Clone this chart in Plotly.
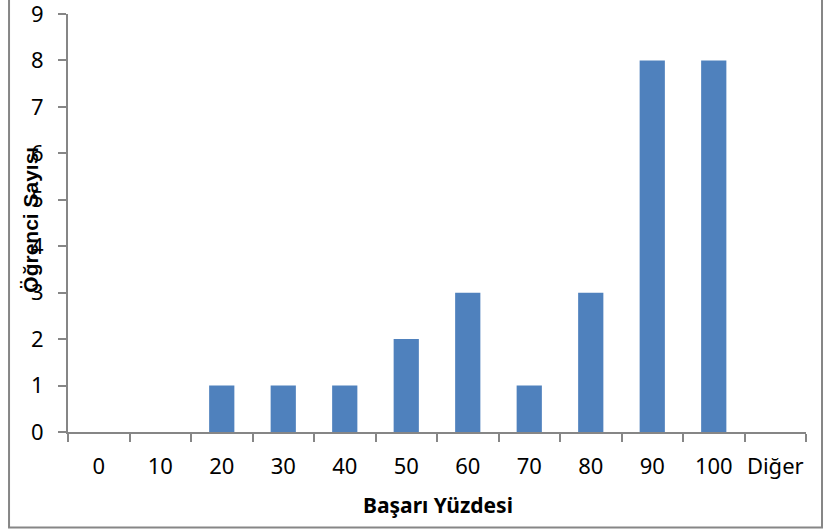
import plotly.graph_objects as go

# histogram bins and counts
categories = ["0", "10", "20", "30", "40", "50", "60", "70", "80", "90", "100", "Diğer"]
counts = [0, 0, 1, 1, 1, 2, 3, 1, 3, 8, 8, 0]

GRAY = "#868686"
BLUE = "#4F81BD"
FONT = "Noto Sans"

fig = go.Figure()
fig.add_trace(go.Bar(x=categories, y=counts, marker=dict(color=BLUE, line=dict(width=0)),
                     showlegend=False))

fig.update_layout(
    width=826, height=532,
    margin=dict(l=68, r=20, t=14, b=100),
    paper_bgcolor="white", plot_bgcolor="white",
    bargap=0.59,
    font=dict(family=FONT, size=22, color="black"),
)

fig.update_xaxes(
    type="category", tickson="boundaries", automargin=False, tickangle=0,
    showline=True, linecolor=GRAY, linewidth=2,
    ticks="outside", ticklen=8, tickcolor=GRAY, tickwidth=2,
    ticklabelstandoff=14, ticklabeloverflow="allow",
    showgrid=False, zeroline=False,
)
fig.update_yaxes(
    range=[0, 9], tickvals=list(range(10)), automargin=False,
    showline=True, linecolor=GRAY, linewidth=2,
    ticks="outside", ticklen=8, tickcolor=GRAY, tickwidth=2,
    ticklabelstandoff=10, ticklabeloverflow="allow",
    showgrid=False, zeroline=False,
)

# axis titles (excel style, the y title sits over the tick labels)
fig.add_annotation(text="<b>Öğrenci Sayısı</b>", xref="paper", yref="paper",
                   x=-0.052, y=0.507, textangle=-90, showarrow=False,
                   font=dict(family="Liberation Sans Narrow, Liberation Sans", size=21),
                   xanchor="center", yanchor="middle")
fig.add_annotation(text="<b>Başarı Yüzdesi</b>", xref="paper", yref="paper",
                   x=0.501, y=-0.174, showarrow=False,
                   font=dict(size=21), xanchor="center", yanchor="middle")

# chart area border
fig.add_shape(type="rect", xref="paper", yref="paper",
              x0=-0.0799, x1=1.0217, y0=-0.2286, y1=1.05,
              line=dict(color=GRAY, width=2), layer="below")

# drop the default body margin so the figure sits at the window origin
fig.write_html("out.html", config={"displayModeBar": False},
               post_script="document.body.style.margin='0';")
